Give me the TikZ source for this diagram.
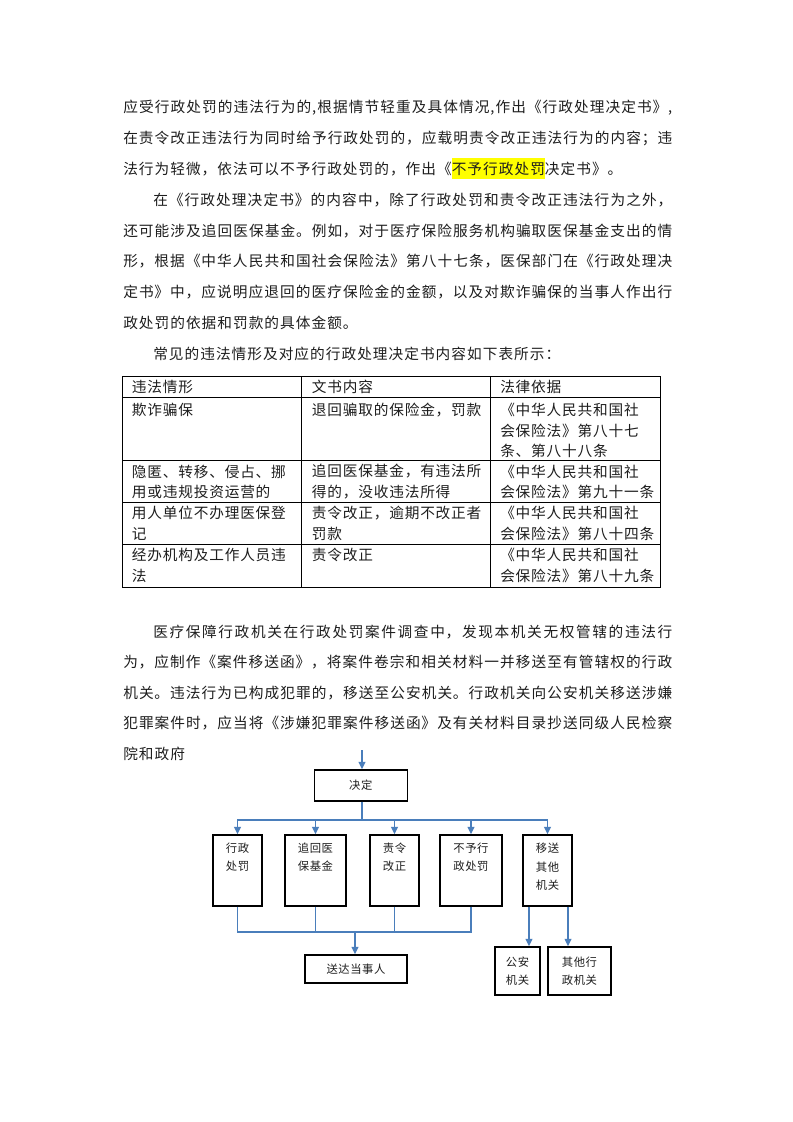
\documentclass[tikz,border=0pt]{standalone}
\usepackage{fontspec}
\usetikzlibrary{arrows.meta}
\setmainfont{Noto Sans CJK SC}
\newfontfamily\bodyf[LetterSpace=5.5]{Noto Sans CJK SC}
\newfontfamily\bodyw[LetterSpace=7]{Noto Sans CJK SC}
\newfontfamily\chartf[LetterSpace=5]{Noto Sans CJK SC}
\XeTeXlinebreaklocale "zh"
\XeTeXlinebreakskip=0pt plus 2pt
\definecolor{txt}{RGB}{30,30,30}
\definecolor{flow}{RGB}{74,126,187}
\definecolor{hl}{RGB}{255,255,0}
\newcommand\jline[2]{\parbox{#1}{\parfillskip=0pt\relax #2}}
\newcommand\hlt[1]{{\setlength\fboxsep{0pt}\smash{\colorbox{hl}{\rule[-3pt]{0pt}{15.75pt}#1}}}}
\tikzset{
  body/.style={anchor=west, inner sep=0pt, font=\bodyf\fontsize{11pt}{15pt}\selectfont, text=txt},
  bodylast/.style={body, font=\bodyw\fontsize{11pt}{15pt}\selectfont},
  tline/.style={draw=black, line width=0.7pt},
  fbox/.style={draw=black, line width=1.1pt, inner sep=0pt, font=\chartf\fontsize{8.5pt}{13.9pt}\selectfont, align=center, text=txt},
  ftxt/.style={inner sep=0pt, font=\chartf\fontsize{8.5pt}{13.9pt}\selectfont, align=center, text=txt},
  link/.style={draw=flow, line width=1.1pt},
  arr/.style={link, -{Triangle[length=5.5pt,width=5pt]}},
}
\begin{document}
\begin{tikzpicture}[x=0.75pt,y=-0.75pt]
\useasboundingbox (0,0) rectangle (793,1122);
\fill[white] (0,0) rectangle (793,1122);

% ---------- body text ----------
\node[body] (p1) at (123,108) {\jline{411.75pt}{应受行政处罚的违法行为的,根据情节轻重及具体情况,作出《行政处理决定书》,}};
\node[body] (p2) at (123,138.7) {\jline{411.75pt}{在责令改正违法行为同时给予行政处罚的，应载明责令改正违法行为的内容；违}};
\node[bodylast] (p3) at (123,169.4) {法行为轻微，依法可以不予行政处罚的，作出《\hlt{不予行政处罚}决定书》。};
\node[body] (p4) at (153,200.1) {\jline{389.25pt}{在《行政处理决定书》的内容中，除了行政处罚和责令改正违法行为之外，}};
\node[body] (p5) at (123,230.8) {\jline{411.75pt}{还可能涉及追回医保基金。例如，对于医疗保险服务机构骗取医保基金支出的情}};
\node[body] (p6) at (123,261.5) {\jline{411.75pt}{形，根据《中华人民共和国社会保险法》第八十七条，医保部门在《行政处理决}};
\node[body] (p7) at (123,292.2) {\jline{411.75pt}{定书》中，应说明应退回的医疗保险金的金额，以及对欺诈骗保的当事人作出行}};
\node[bodylast] (p8) at (123,322.9) {政处罚的依据和罚款的具体金额。};
\node[bodylast] (p9) at (153,353.6) {常见的违法情形及对应的行政处理决定书内容如下表所示：};

% ---------- table ----------
\draw[tline] (122.7,376) rectangle (660,587.7);
\draw[tline] (122.7,397.3) -- (660,397.3);
\draw[tline] (122.7,460.7) -- (660,460.7);
\draw[tline] (122.7,502.7) -- (660,502.7);
\draw[tline] (122.7,544.3) -- (660,544.3);
\draw[tline] (301.7,376) -- (301.7,587.7);
\draw[tline] (490.7,376) -- (490.7,587.7);

\node[body] (h1) at (131.7,387) {违法情形};
\node[body] (h2) at (311.7,387) {文书内容};
\node[body] (h3) at (500,387) {法律依据};

\node[body] (r1a) at (131.7,410) {欺诈骗保};
\node[body] (r1b) at (311.7,410) {退回骗取的保险金，罚款};
\node[body] (r1c1) at (500,410) {《中华人民共和国社};
\node[body] (r1c2) at (500,430.5) {会保险法》第八十七};
\node[body] (r1c3) at (500,451) {条、第八十八条};

\node[body] (r2a1) at (131.7,471.5) {隐匿、转移、侵占、挪};
\node[body] (r2a2) at (131.7,492) {用或违规投资运营的};
\node[body] (r2b1) at (311.7,471.5) {追回医保基金，有违法所};
\node[body] (r2b2) at (311.7,492) {得的，没收违法所得};
\node[body] (r2c1) at (500,471.5) {《中华人民共和国社};
\node[body] (r2c2) at (500,492) {会保险法》第九十一条};

\node[body] (r3a1) at (131.7,513) {用人单位不办理医保登};
\node[body] (r3a2) at (131.7,533.5) {记};
\node[body] (r3b1) at (311.7,513) {责令改正，逾期不改正者};
\node[body] (r3b2) at (311.7,533.5) {罚款};
\node[body] (r3c1) at (500,513) {《中华人民共和国社};
\node[body] (r3c2) at (500,533.5) {会保险法》第八十四条};

\node[body] (r4a1) at (131.7,555) {经办机构及工作人员违};
\node[body] (r4a2) at (131.7,576) {法};
\node[body] (r4b1) at (311.7,555) {责令改正};
\node[body] (r4c1) at (500,555) {《中华人民共和国社};
\node[body] (r4c2) at (500,576) {会保险法》第八十九条};

% ---------- second paragraph ----------
\node[body] (q1) at (153,632) {\jline{389.25pt}{医疗保障行政机关在行政处罚案件调查中，发现本机关无权管辖的违法行}};
\node[body] (q2) at (123,662.5) {\jline{411.75pt}{为，应制作《案件移送函》，将案件卷宗和相关材料一并移送至有管辖权的行政}};
\node[body] (q3) at (123,693) {\jline{411.75pt}{机关。违法行为已构成犯罪的，移送至公安机关。行政机关向公安机关移送涉嫌}};
\node[body] (q4) at (123,723.5) {\jline{411.75pt}{犯罪案件时，应当将《涉嫌犯罪案件移送函》及有关材料目录抄送同级人民检察}};
\node[bodylast] (q5) at (123,754) {院和政府};

% ---------- flowchart ----------
\node[fbox, minimum width=69.75pt, minimum height=23.25pt] (jd) at (360.8,785.5) {决定};
\node[fbox, minimum width=36.75pt, minimum height=53.25pt] (b1) at (237.5,870.5) {};
\node[fbox, minimum width=45.75pt, minimum height=53.25pt] (b2) at (315.5,870.5) {};
\node[fbox, minimum width=36.75pt, minimum height=53.25pt] (b3) at (394.5,870.5) {};
\node[fbox, minimum width=46.5pt, minimum height=53.25pt] (b4) at (471,870.5) {};
\node[fbox, minimum width=36.75pt, minimum height=53.25pt] (b5) at (547.5,870.5) {};
\path (b1.north) ++(0,23) node[ftxt] (b1t) {行政\\处罚};
\path (b2.north) ++(0,23) node[ftxt] (b2t) {追回医\\保基金};
\path (b3.north) ++(0,23) node[ftxt] (b3t) {责令\\改正};
\path (b4.north) ++(0,23) node[ftxt] (b4t) {不予行\\政处罚};
\path (b5.north) ++(0,32.5) node[ftxt] (b5t) {移送\\其他\\机关};
\node[fbox, minimum width=76.5pt, minimum height=21pt] (sd) at (356,969) {送达当事人};
\node[fbox, minimum width=33.75pt, minimum height=36pt] (ga) at (517.5,971) {公安\\机关};
\node[fbox, minimum width=47.25pt, minimum height=36pt] (qt) at (579.5,971) {其他行\\政机关};

\coordinate (in) at (362,750);
\coordinate (split) at (362,820);
\coordinate (merge) at (355,932);
\draw[arr] (in) -- (in |- jd.north);
\draw[link] (split |- jd.south) -- (split);
\foreach \b in {b1,b2,b3,b4,b5} \draw[arr] (split) -| (\b.north);
\foreach \b in {b1,b2,b3,b4} \draw[link] (\b.south) |- (merge);
\draw[arr] (merge) -- (merge |- sd.north);
\coordinate (g1) at ([xshift=-13.9pt]b5.south);
\coordinate (g2) at ([xshift=15.4pt]b5.south);
\draw[arr] (g1) -- (g1 |- ga.north);
\draw[arr] (g2) -- (g2 |- qt.north);
\end{tikzpicture}
\end{document}
